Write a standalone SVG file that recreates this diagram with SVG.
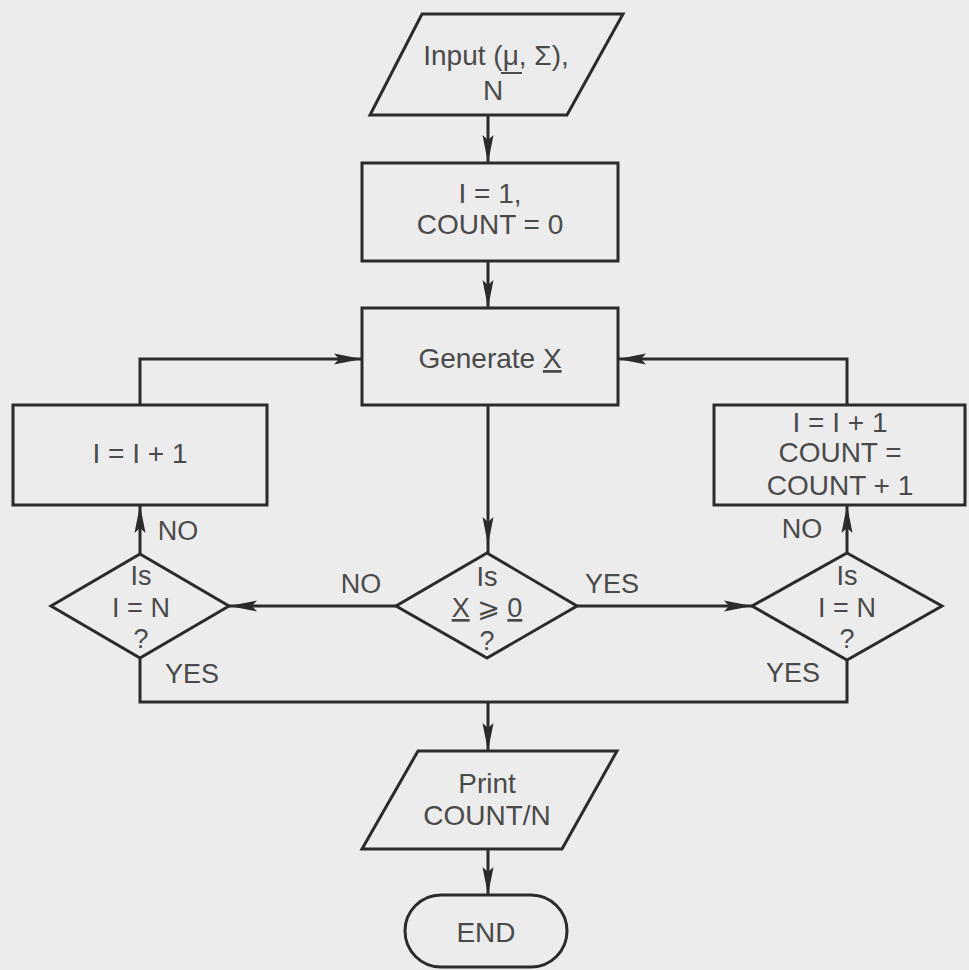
<svg xmlns="http://www.w3.org/2000/svg" width="969" height="970" viewBox="0 0 969 970">
  <style>
    .shape { fill: none; stroke: #2b2b2b; stroke-width: 3; stroke-linejoin: miter; }
    .wire { fill: none; stroke: #2b2b2b; stroke-width: 3; }
    .t { font-family: "Liberation Sans", Arial, "DejaVu Sans", sans-serif; font-size: 28px; fill: #4a4a4a; text-anchor: middle; }
    .d { font-size: 27px; }
    .lbl { font-family: "Liberation Sans", Arial, sans-serif; font-size: 27px; fill: #4a4a4a; text-anchor: middle; }
    .u { text-decoration: underline; }
    .ul { stroke: #4a4a4a; stroke-width: 2; }
  </style>
  <defs>
    <marker id="arrow" markerUnits="userSpaceOnUse" markerWidth="30" markerHeight="12" refX="28" refY="6" orient="auto">
      <path d="M0,0.5 L28,6 L0,11.5 L5,6 Z" fill="#2b2b2b"/>
    </marker>
  </defs>

  <rect x="0" y="0" width="969" height="970" fill="#ececec"/>

  <!-- connectors -->
  <g id="connectors">
    <line class="wire" x1="488" y1="115" x2="488" y2="163" marker-end="url(#arrow)"/>
    <line class="wire" x1="488" y1="261" x2="488" y2="308" marker-end="url(#arrow)"/>
    <line class="wire" x1="488" y1="405" x2="488" y2="545" marker-end="url(#arrow)"/>
    <line class="wire" x1="488" y1="545" x2="488" y2="553"/>
    <!-- NO branch to the left test -->
    <line class="wire" x1="396" y1="606" x2="229" y2="606" marker-end="url(#arrow)"/>
    <!-- YES branch to the right test -->
    <line class="wire" x1="577" y1="606" x2="752" y2="606" marker-end="url(#arrow)"/>
    <!-- left loop -->
    <line class="wire" x1="140" y1="554" x2="140" y2="505" marker-end="url(#arrow)"/>
    <polyline class="wire" points="140,405 140,359 362,359" marker-end="url(#arrow)"/>
    <!-- right loop -->
    <line class="wire" x1="847" y1="553" x2="847" y2="505" marker-end="url(#arrow)"/>
    <polyline class="wire" points="847,405 847,359 618,359" marker-end="url(#arrow)"/>
    <!-- YES exits joined to the output -->
    <polyline class="wire" points="140,658 140,702 847,702 847,660"/>
    <line class="wire" x1="488" y1="702" x2="488" y2="751" marker-end="url(#arrow)"/>
    <line class="wire" x1="488" y1="849" x2="488" y2="895" marker-end="url(#arrow)"/>
  </g>

  <g id="input">
    <polygon class="shape" points="422,14 623,14 567,115 370,115"/>
    <text class="t" x="496" y="65">Input (μ, Σ),</text>
    <!-- vector underline under mu -->
    <line class="ul" x1="501" y1="73" x2="522" y2="73"/>
    <text class="t" x="493" y="100">N</text>
  </g>

  <g id="init">
    <rect class="shape" x="362" y="163" width="256" height="98"/>
    <text class="t" x="490" y="203">I = 1,</text>
    <text class="t" x="490" y="234">COUNT = 0</text>
  </g>

  <g id="generate">
    <rect class="shape" x="362" y="308" width="256" height="97"/>
    <text class="t" x="490" y="368">Generate <tspan class="u">X</tspan></text>
  </g>

  <g id="test-x">
    <polygon class="shape" points="487,553 577,606 487,658 396,606"/>
    <text class="t d" x="487" y="586">Is</text>
    <text class="t d" x="487" y="617"><tspan class="u">X</tspan> ⩾ <tspan class="u">0</tspan></text>
    <text class="t d" x="487" y="650">?</text>
  </g>

  <g id="test-left">
    <polygon class="shape" points="140,554 229,606 140,658 51,606"/>
    <text class="t d" x="141" y="585">Is</text>
    <text class="t d" x="141" y="617">I = N</text>
    <text class="t d" x="141" y="648">?</text>
  </g>

  <g id="step-left">
    <rect class="shape" x="13" y="405" width="254" height="100"/>
    <text class="t" x="140" y="463">I = I + 1</text>
  </g>

  <g id="test-right">
    <polygon class="shape" points="847,553 942,606 847,660 752,606"/>
    <text class="t d" x="847" y="585">Is</text>
    <text class="t d" x="847" y="617">I = N</text>
    <text class="t d" x="847" y="648">?</text>
  </g>

  <g id="step-right">
    <rect class="shape" x="714" y="405" width="251" height="100"/>
    <text class="t" x="840" y="432">I = I + 1</text>
    <text class="t" x="840" y="462">COUNT =</text>
    <text class="t" x="840" y="495">COUNT + 1</text>
  </g>

  <g id="print">
    <polygon class="shape" points="418,751 617,751 562,849 362,849"/>
    <text class="t" x="487" y="793">Print</text>
    <text class="t" x="487" y="825">COUNT/N</text>
  </g>

  <g id="end">
    <rect class="shape" x="405" y="895" width="162" height="72" rx="36" ry="36"/>
    <text class="t" x="486" y="942">END</text>
  </g>

  <g id="labels">
    <text class="lbl" x="361" y="593">NO</text>
    <text class="lbl" x="612" y="593">YES</text>
    <text class="lbl" x="178" y="540">NO</text>
    <text class="lbl" x="192" y="683">YES</text>
    <text class="lbl" x="802" y="538">NO</text>
    <text class="lbl" x="793" y="682">YES</text>
  </g>
</svg>
